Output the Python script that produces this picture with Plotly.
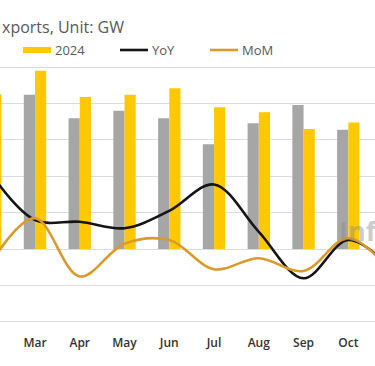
import plotly.graph_objects as go

# ---- data ----
months = ["Feb", "Mar", "Apr", "May", "Jun", "Jul", "Aug", "Sep", "Oct", "Nov"]
exports_2023 = [15.0, 21.2, 18.0, 19.0, 18.0, 14.4, 17.3, 19.8, 16.4, 17.0]
exports_2024 = [21.3, 24.5, 20.9, 21.2, 22.1, 19.5, 18.8, 16.5, 17.4, 14.9]
yoy_pct = [42, 16, 15, 11.5, 21, 35.5, 9.5, -16, 5, -12]
mom_pct = [-8, 17, -15, 3, 5, -11, -5, -12, 6, -14]

title_text = "xports, Unit: GW"
legend_labels = ["2024", "YoY", "MoM"]
watermark = "Inf"
axis_min, axis_max = -10, 25

# ---- style ----
W, H = 375, 366
PLOT_TOP, PLOT_BOTTOM = 67, 322
GRAY = "#A6A6A6"
YELLOW = "#FFC800"
BLACK = "#151515"
ORANGE = "#DA9A2C"
TEXT = "#595959"
GRID = "#DCDCDC"


def py(ypix):
    return (PLOT_BOTTOM - ypix) / (PLOT_BOTTOM - PLOT_TOP)


def px(xpix):
    return xpix / W


fig = go.Figure()
fig.add_trace(go.Bar(x=months, y=exports_2023, name="2023", marker_color=GRAY,
                     marker_line_width=0, showlegend=False))
fig.add_trace(go.Bar(x=months, y=exports_2024, name="2024", marker_color=YELLOW,
                     marker_line_width=0, showlegend=False))
fig.add_trace(go.Scatter(x=months, y=yoy_pct, name="YoY", mode="lines", yaxis="y2",
                         line=dict(color=BLACK, width=2.6, shape="spline", smoothing=1.0),
                         showlegend=False))
fig.add_trace(go.Scatter(x=months, y=mom_pct, name="MoM", mode="lines", yaxis="y2",
                         line=dict(color=ORANGE, width=2.6, shape="spline", smoothing=1.0),
                         showlegend=False))

shapes = [
    dict(type="line", xref="paper", yref="y", x0=0, x1=1, y0=axis_max, y1=axis_max,
         line=dict(color=GRID, width=1.5), layer="below"),
    dict(type="line", xref="paper", yref="y", x0=0, x1=1, y0=axis_min, y1=axis_min,
         line=dict(color=GRID, width=1.5), layer="below"),
    dict(type="rect", xref="paper", yref="paper", x0=px(23), x1=px(51), y0=py(53), y1=py(47),
         fillcolor=YELLOW, line_width=0),
    dict(type="line", xref="paper", yref="paper", x0=px(120), x1=px(148), y0=py(50), y1=py(50),
         line=dict(color=BLACK, width=2.6)),
    dict(type="line", xref="paper", yref="paper", x0=px(210), x1=px(238), y0=py(50), y1=py(50),
         line=dict(color=ORANGE, width=2.6)),
]

annotations = [
    dict(text=title_text, xref="paper", yref="paper", x=px(0), y=py(27), xanchor="left",
         yanchor="middle", showarrow=False, font=dict(size=16, color=TEXT)),
    dict(text=legend_labels[0], xref="paper", yref="paper", x=px(53), y=py(50), xanchor="left",
         yanchor="middle", showarrow=False, font=dict(size=13, color=TEXT)),
    dict(text=legend_labels[1], xref="paper", yref="paper", x=px(150), y=py(50), xanchor="left",
         yanchor="middle", showarrow=False, font=dict(size=13, color=TEXT)),
    dict(text=legend_labels[2], xref="paper", yref="paper", x=px(240), y=py(50), xanchor="left",
         yanchor="middle", showarrow=False, font=dict(size=13, color=TEXT)),
    dict(text="<b>" + watermark + "</b>", xref="paper", yref="paper", x=px(337), y=py(231),
         xanchor="left", yanchor="middle", showarrow=False,
         font=dict(size=27, color="rgba(140,140,140,0.45)")),
]

fig.update_layout(
    width=W, height=H,
    margin=dict(l=0, r=0, t=PLOT_TOP, b=H - PLOT_BOTTOM, pad=0),
    paper_bgcolor="white", plot_bgcolor="white",
    barmode="group", bargap=0.5, bargroupgap=0,
    font=dict(family="Open Sans", color="#333333"),
    xaxis=dict(type="category", range=[0.218, 8.596], showgrid=False, zeroline=False,
               showline=False, ticks="", ticklabelstandoff=12,
               tickfont=dict(size=12, color="#333333", weight=600)),
    yaxis=dict(range=[axis_min - 0.03, axis_max + 0.03], tick0=0, dtick=5, showgrid=True,
               gridcolor=GRID, gridwidth=1, zeroline=False, showticklabels=False, ticks=""),
    yaxis2=dict(range=[-40, 100], overlaying="y", side="right", showgrid=False,
                zeroline=False, showticklabels=False, ticks=""),
    shapes=shapes,
    annotations=annotations,
    showlegend=False,
)

fig.write_html("out.html", config={"displayModeBar": False},
               post_script="document.body.style.margin='0';document.body.style.overflow='hidden';")
